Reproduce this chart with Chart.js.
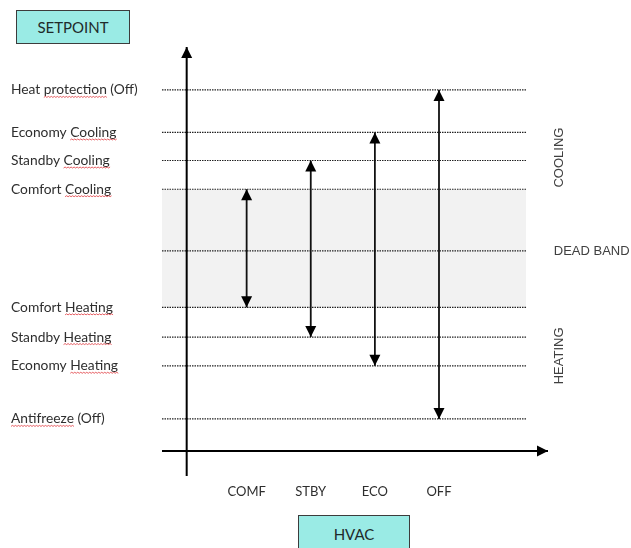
<!DOCTYPE html>
<html>
<head>
<meta charset="utf-8">
<script src="https://cdn.jsdelivr.net/npm/chart.js@4"></script>
<style>
  html, body { margin: 0; padding: 0; background: #ffffff; overflow: hidden; }
  #wrap { position: relative; width: 631px; height: 548px; overflow: hidden; }
  #c { position: absolute; left: 0; top: 0; }
  .box { position: absolute; box-sizing: border-box; background: #9aebe5; border: 1px solid #3c3c3c;
         font-family: Lato, "Open Sans", sans-serif; color: #1f2a2a; text-align: center; }
  #setpoint { left: 16px; top: 10px; width: 114px; height: 34px; line-height: 32px; font-size: 15px; }
  #hvac { left: 298px; top: 515px; width: 112px; height: 40px; line-height: 36px; font-size: 15px; }
</style>
</head>
<body>
<div id="wrap">
  <canvas id="c" width="631" height="548"></canvas>
  <div class="box" id="setpoint">SETPOINT</div>
  <div class="box" id="hvac">HVAC</div>
</div>
<script>
// ---- data ----
const levelNames  = ['Antifreeze (Off)', 'Economy Heating', 'Standby Heating', 'Comfort Heating', '', 'Comfort Cooling', 'Standby Cooling', 'Economy Cooling', 'Heat protection (Off)'];
const levelValues = [0.97, 2.58, 3.45, 4.35, 6.06, 7.93, 8.80, 9.65, 10.94];
const underlined  = ['Antifreeze', 'Heating', 'Heating', 'Heating', '', 'Cooling', 'Cooling', 'Cooling', 'protection'];
const modes       = ['COMF', 'STBY', 'ECO', 'OFF'];
const modePos     = [1, 2, 3, 4];
const modeLow     = [4.35, 3.45, 2.58, 0.97];
const modeHigh    = [7.93, 8.80, 9.65, 10.94];
const deadBand    = [4.35, 7.93];
const bandLabels  = ['COOLING', 'DEAD BAND', 'HEATING'];
const bandValues  = [8.89, 6.06, 2.88];

const xMin = -0.32, xMax = 5.70, lineEnd = 5.36, yAxisX = 0.065;
const yMin = -0.76, yMax = 12.24;
const LABEL_FONT = '13.8px Lato';

const datasets = [];
// dead band shading
datasets.push({
  data: [{x: xMin, y: deadBand[1]}, {x: lineEnd, y: deadBand[1]}],
  fill: {value: deadBand[0]}, backgroundColor: '#f2f2f2', borderWidth: 0,
  pointRadius: 0, order: 10, clip: false
});
// dotted level lines
levelValues.forEach(v => datasets.push({
  data: [{x: xMin, y: v}, {x: lineEnd, y: v}],
  borderColor: '#222222', borderWidth: 1.2, borderDash: [1.5, 1],
  pointRadius: 0, fill: false, order: 5, clip: false
}));
// mode arrows
modes.forEach((m, i) => datasets.push({
  data: [{x: modePos[i], y: modeLow[i]}, {x: modePos[i], y: modeHigh[i]}],
  borderColor: '#111111', borderWidth: 1.8, pointRadius: 0, fill: false,
  order: 1, clip: false, arrowHeads: [true, true]
}));
// axes
datasets.push({
  data: [{x: yAxisX, y: yMin}, {x: yAxisX, y: yMax}],
  borderColor: '#000000', borderWidth: 2, pointRadius: 0, fill: false,
  order: 0, clip: false, arrowHeads: [false, true]
});
datasets.push({
  data: [{x: xMin, y: 0}, {x: xMax, y: 0}],
  borderColor: '#000000', borderWidth: 2, pointRadius: 0, fill: false,
  order: 0, clip: false, arrowHeads: [false, true]
});

const arrowPlugin = {
  id: 'arrowHeads',
  afterDatasetsDraw(chart) {
    const ctx = chart.ctx;
    chart.data.datasets.forEach((ds, i) => {
      if (!ds.arrowHeads) return;
      const pts = chart.getDatasetMeta(i).data;
      const ends = [[pts[0], pts[1]], [pts[1], pts[0]]];
      ends.forEach(([tip, other], k) => {
        if (!ds.arrowHeads[k]) return;
        const dx = tip.x - other.x, dy = tip.y - other.y;
        const len = Math.hypot(dx, dy) || 1;
        const ux = dx / len, uy = dy / len;
        const L = 11, W = 5.5;
        const bx = tip.x - ux * L, by = tip.y - uy * L;
        ctx.save();
        ctx.fillStyle = '#000';
        ctx.beginPath();
        ctx.moveTo(tip.x, tip.y);
        ctx.lineTo(bx - uy * W, by + ux * W);
        ctx.lineTo(bx + uy * W, by - ux * W);
        ctx.closePath();
        ctx.fill();
        ctx.restore();
      });
    });
  }
};

// red wavy spell-check underlines under the level labels
const squigglePlugin = {
  id: 'squiggles',
  afterDraw(chart) {
    const ctx = chart.ctx, ys = chart.scales.y;
    const left = ys.left;
    ctx.save();
    ctx.font = LABEL_FONT;
    ctx.strokeStyle = '#e0393e';
    ctx.lineWidth = 0.8;
    levelNames.forEach((name, i) => {
      const w = underlined[i];
      if (!w) return;
      const start = name.indexOf(w);
      const x0 = left + ctx.measureText(name.slice(0, start)).width;
      const x1 = x0 + ctx.measureText(w).width;
      const yb = ys.getPixelForValue(levelValues[i]) + 7.5;
      ctx.beginPath();
      let up = true;
      ctx.moveTo(x0, yb);
      for (let x = x0 + 1.5; x <= x1 + 0.5; x += 1.5) {
        ctx.lineTo(x, yb + (up ? -1 : 0));
        up = !up;
      }
      ctx.stroke();
    });
    ctx.restore();
  }
};

const bandLabelPlugin = {
  id: 'bandLabels',
  afterDraw(chart) {
    const ctx = chart.ctx, xs = chart.scales.x, ys = chart.scales.y;
    ctx.save();
    ctx.font = '13px "Liberation Sans", Arial, sans-serif';
    ctx.fillStyle = '#404040';
    ctx.textBaseline = 'middle';
    bandLabels.forEach((t, i) => {
      const y = ys.getPixelForValue(bandValues[i]);
      if (t === 'DEAD BAND') {
        ctx.textAlign = 'left';
        ctx.fillText(t, xs.getPixelForValue(5.79), y);
      } else {
        ctx.save();
        ctx.translate(xs.getPixelForValue(5.88), y);
        ctx.rotate(-Math.PI / 2);
        ctx.textAlign = 'center';
        ctx.fillText(t, 0, 0);
        ctx.restore();
      }
    });
    ctx.restore();
  }
};

new Chart(document.getElementById('c'), {
  type: 'line',
  data: { datasets },
  options: {
    responsive: false,
    animation: false,
    devicePixelRatio: 1,
    layout: { padding: { left: 11, top: 47, right: 83, bottom: 0 } },
    plugins: { legend: { display: false }, tooltip: { enabled: false } },
    scales: {
      x: {
        type: 'linear', min: xMin, max: xMax,
        grid: { display: false, drawTicks: false }, border: { display: false },
        afterBuildTicks: s => { s.ticks = modePos.map(v => ({ value: v })); },
        afterFit: s => { s.height = 72; },
        ticks: {
          autoSkip: false, maxRotation: 0, padding: 8, color: '#2e2e2e',
          font: { family: 'Lato', size: 13 },
          callback: (v, idx) => modes[idx]
        }
      },
      y: {
        type: 'linear', min: yMin, max: yMax,
        grid: { display: false, drawTicks: false }, border: { display: false },
        afterBuildTicks: s => { s.ticks = levelValues.map(v => ({ value: v })); },
        afterFit: s => { s.width = 151; },
        ticks: {
          autoSkip: false, crossAlign: 'far', color: '#2e2e2e',
          font: { family: 'Lato', size: 13.8 },
          callback: (v, idx) => levelNames[idx]
        }
      }
    }
  },
  plugins: [arrowPlugin, squigglePlugin, bandLabelPlugin]
});
</script>
</body>
</html>
